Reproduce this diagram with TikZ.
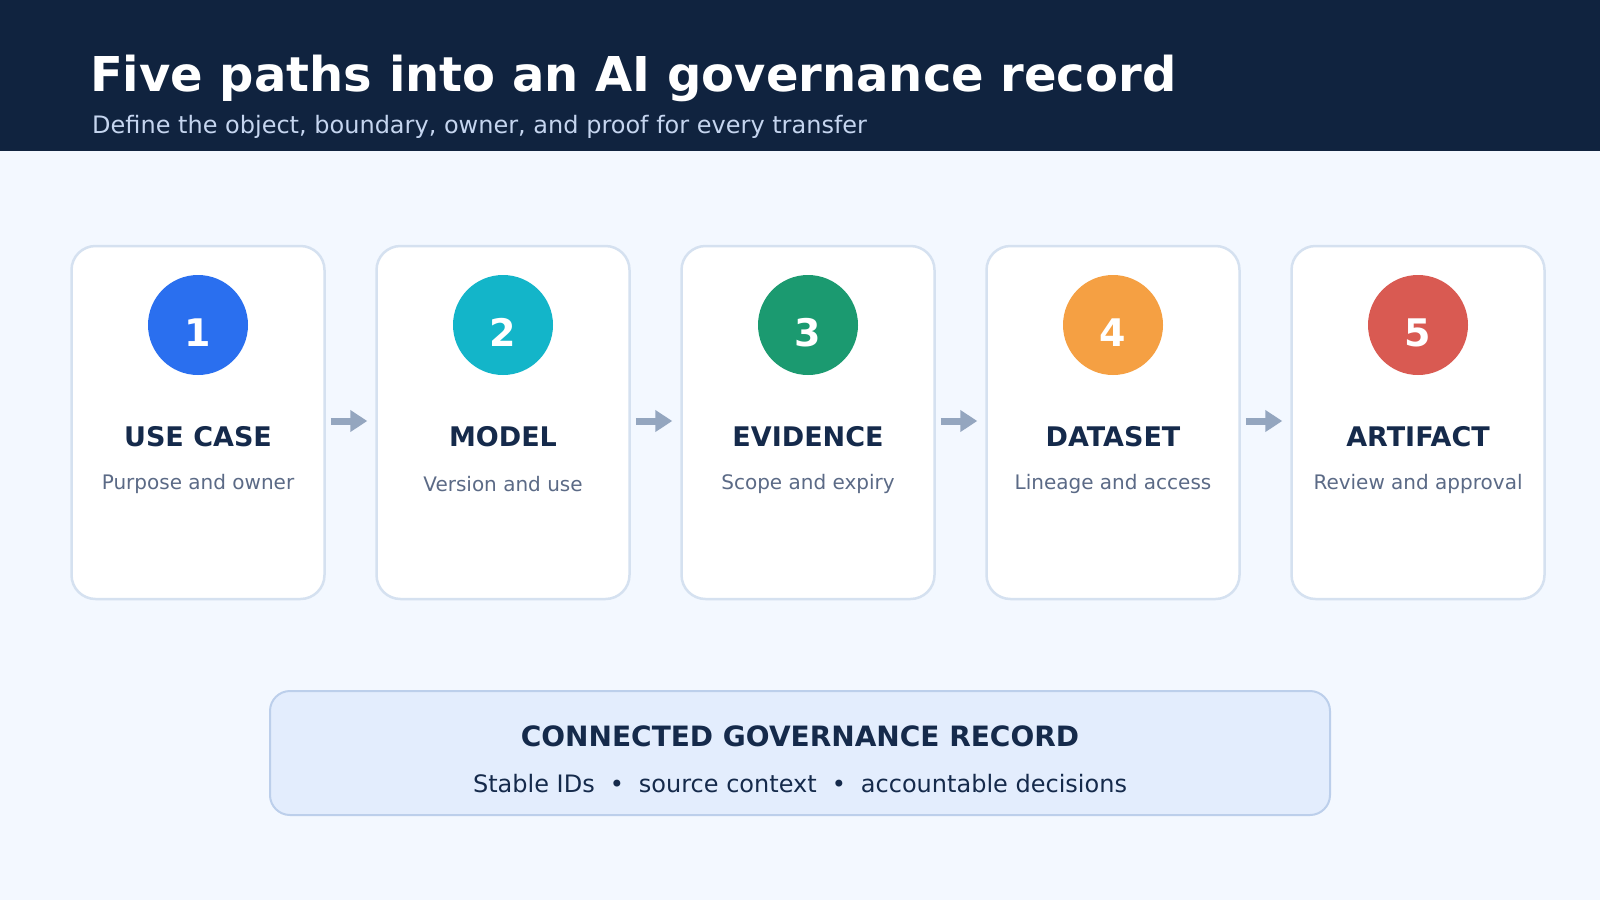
\documentclass[tikz,border=0pt]{standalone}
\usepackage{fontspec}
\setmainfont{DejaVu Sans}
\usetikzlibrary{arrows.meta}
\definecolor{navy}{HTML}{10233F}
\definecolor{pagebg}{HTML}{F3F8FF}
\definecolor{cardline}{HTML}{D5E1F0}
\definecolor{inktext}{HTML}{152A4B}
\definecolor{greytext}{HTML}{5B6A86}
\definecolor{subhead}{HTML}{C5D5EF}
\definecolor{flowgrey}{HTML}{94A6BF}
\definecolor{recfill}{HTML}{E3EDFD}
\definecolor{recline}{HTML}{BCCFEB}
\definecolor{stepblue}{HTML}{2A6FEF}
\definecolor{stepcyan}{HTML}{13B5C9}
\definecolor{stepgreen}{HTML}{1B9A70}
\definecolor{steporange}{HTML}{F5A043}
\definecolor{stepred}{HTML}{D95A52}

\begin{document}
\begin{tikzpicture}[x=1pt,y=-1pt,
	card/.style={draw=cardline,line width=2.5pt,fill=white,rounded corners=24pt,
		minimum width=253pt,minimum height=353pt,inner sep=0pt},
	badge/.style={circle,minimum size=100pt,inner sep=0pt,text=white,
		text height=42pt,text depth=0pt,font=\fontsize{38}{40}\selectfont\bfseries},
	cardtitle/.style={anchor=base,inner sep=0pt,text=inktext,
		font=\fontsize{27}{30}\selectfont\bfseries},
	cardnote/.style={inner sep=0pt,text=greytext,font=\fontsize{20}{24}\selectfont},
	flowarrow/.style={draw=flowgrey,line width=7pt,
		-{Triangle[length=17pt,width=21pt]},shorten <=5pt,shorten >=8pt}]
	\useasboundingbox (0,0) rectangle (1600,900);
	\fill[pagebg] (0,0) rectangle (1600,900);
	\fill[navy] (0,0) rectangle (1600,151);
	\node[anchor=base west,inner sep=0pt,text=white,font=\fontsize{48}{56}\selectfont\bfseries]
		(title) at (90,91) {Five paths into an AI governance record};
	\node[anchor=base west,inner sep=0pt,text=subhead,font=\fontsize{24}{28}\selectfont]
		(subtitle) at (92,133) {Define the object, boundary, owner, and proof for every transfer};
	% the five steps
	\foreach \col/\ttl/\dsc [count=\i] in {stepblue/USE CASE/Purpose and owner,
			stepcyan/MODEL/Version and use,stepgreen/EVIDENCE/Scope and expiry,
			steporange/DATASET/Lineage and access,stepred/ARTIFACT/Review and approval}{
		\pgfmathsetmacro{\cx}{198+305*(\i-1)}
		\node[card] (card\i) at (\cx,422.5) {};
		\node[badge,fill=\col] (dot\i) at (\cx,325) {\i};
		\node[cardtitle] (name\i) at (\cx,446) {\ttl};
		\node[cardnote] (note\i) at (\cx,484) {\dsc};
	}
	\foreach \i [evaluate=\i as \j using int(\i+1)] in {1,...,4}{
		\draw[flowarrow] ([yshift=1.5pt]card\i.east) -- ([yshift=1.5pt]card\j.west);
	}
	% the record
	\node[draw=recline,line width=2pt,fill=recfill,rounded corners=20pt,
		minimum width=1060pt,minimum height=124pt] (record) at (800,753) {};
	\node[anchor=base,inner sep=0pt,text=inktext,font=\fontsize{28}{32}\selectfont\bfseries]
		(recordtitle) at (800,746) {CONNECTED GOVERNANCE RECORD};
	\node[anchor=base,inner sep=0pt,text=inktext,font=\fontsize{24}{28}\selectfont]
		(recordline) at (800,792) {Stable IDs\hspace{15pt}•\hspace{15pt}source context\hspace{15pt}•\hspace{15pt}accountable decisions};
\end{tikzpicture}
\end{document}
